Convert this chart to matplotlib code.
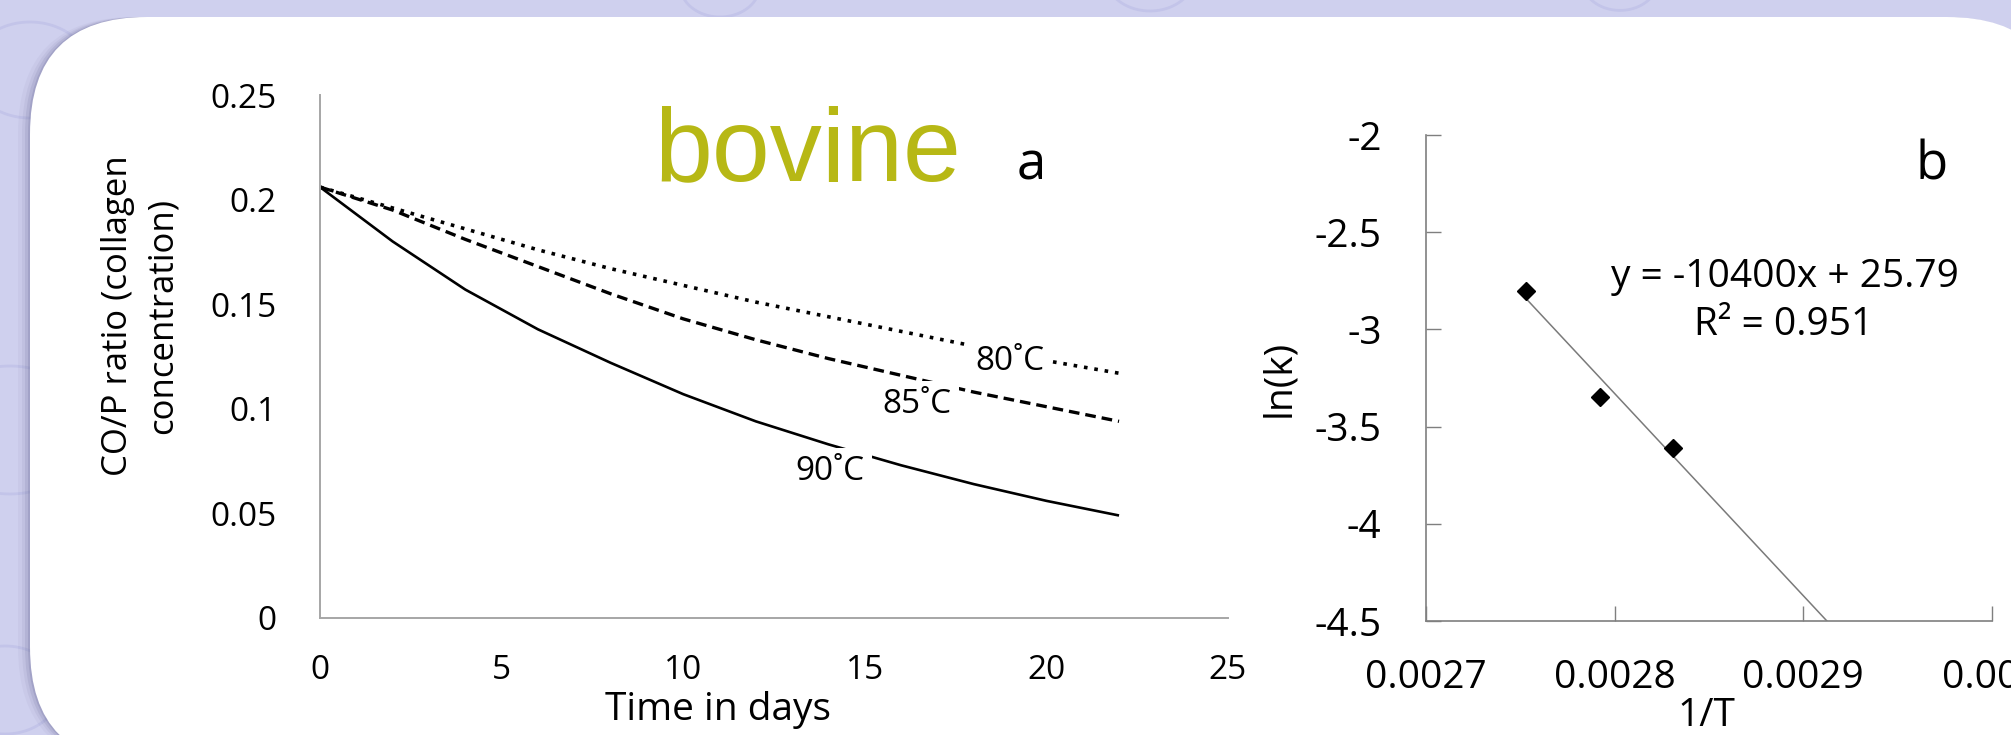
import matplotlib
matplotlib.use("Agg")
import matplotlib.pyplot as plt
import numpy as np
from matplotlib.patches import FancyBboxPatch

plt.rcParams['font.family'] = ['Open Sans', 'DejaVu Sans']

# ---------------- data: panel a (bovine collagen decay) ----------------
days = [0, 2, 4, 6, 8, 10, 12, 14, 16, 18, 20, 22]
co_p_80 = [0.206, 0.196, 0.186, 0.176, 0.167, 0.159, 0.151, 0.144, 0.137, 0.130, 0.123, 0.117]
co_p_85 = [0.206, 0.195, 0.181, 0.168, 0.155, 0.143, 0.133, 0.124, 0.116, 0.108, 0.101, 0.094]
co_p_90 = [0.206, 0.180, 0.157, 0.138, 0.122, 0.107, 0.094, 0.083, 0.073, 0.064, 0.056, 0.049]
curve_labels = ["80˚C", "85˚C", "90˚C"]
xa_ticks = [0, 5, 10, 15, 20, 25]
xa_labels = ["0", "5", "10", "15", "20", "25"]
ya_ticks = [0, 0.05, 0.1, 0.15, 0.2, 0.25]
ya_labels = ["0", "0.05", "0.1", "0.15", "0.2", "0.25"]

# ---------------- data: panel b (Arrhenius plot) ----------------
inv_T = [0.002753, 0.002792, 0.002831]
ln_k = [-2.80, -3.35, -3.61]
trend_slope = -10400
trend_intercept = 25.79
trend_span = [0.002753, 0.00292]
trend_text = "y = -10400x + 25.79"
r2_text = "R² = 0.951"
xb_ticks = [0.0027, 0.0028, 0.0029, 0.003]
xb_labels = ["0.0027", "0.0028", "0.0029", "0.003"]
yb_ticks = [-4.5, -4, -3.5, -3, -2.5, -2]
yb_labels = ["-4.5", "-4", "-3.5", "-3", "-2.5", "-2"]

W, H, DPI = 2011, 735, 100
fig = plt.figure(figsize=(W / DPI, H / DPI), dpi=DPI)
fig.patch.set_facecolor("#cfd0ee")


def fx(x):
    return x / W


def fy(y):
    return 1 - y / H


# background slide panel
bg = fig.add_axes([0, 0, 1, 1])
bg.set_xlim(0, W)
bg.set_ylim(H, 0)
bg.axis("off")
th = np.linspace(0, 2 * np.pi, 200)
for cx, cy, r in [(30, 70, 60), (720, -15, 40), (1150, -25, 45), (1620, -20, 38), (10, 430, 80), (5, 690, 55)]:
    bg.plot(cx + r * np.cos(th), cy + 0.8 * r * np.sin(th), color="#c3c4e9", lw=2, zorder=0.5)
for dx, a in [(12, 0.05), (8, 0.08), (5, 0.12), (2, 0.18)]:
    bg.add_patch(FancyBboxPatch((30 - dx, 17), 2034, 747,
                                boxstyle="round,pad=0,rounding_size=117",
                                fc="#5a5a88", ec="none", alpha=a, zorder=1))
bg.add_patch(FancyBboxPatch((30, 17), 2034, 747,
                            boxstyle="round,pad=0,rounding_size=117",
                            fc="white", ec="none", zorder=1.5))

# ---------------- panel a ----------------
axa = fig.add_axes([fx(320), fy(618), (1228 - 320) / W, (618 - 95) / H])
axa.set_facecolor("none")
axa.plot(days, co_p_90, color="black", lw=1.9, solid_capstyle="butt")
axa.plot(days, co_p_85, color="black", lw=2.4, ls=(0, (3.2, 1.8)))
axa.plot(days, co_p_80, color="black", lw=2.6, ls=(0, (1, 1.9)))
axa.set_xlim(0, 25)
axa.set_ylim(0, 0.25)
for s in ["top", "right"]:
    axa.spines[s].set_visible(False)
for s in ["left", "bottom"]:
    axa.spines[s].set_color("#a6a6a6")
    axa.spines[s].set_linewidth(1.4)
axa.set_xticks(xa_ticks, xa_labels)
axa.set_yticks(ya_ticks, ya_labels)
axa.tick_params(axis="both", length=0, labelsize=24, colors="black")
axa.tick_params(axis="x", pad=26)
axa.tick_params(axis="y", pad=31)

box = dict(boxstyle="square,pad=0.22", fc="white", ec="none")
axa.text(19.0, 0.1228, curve_labels[0], fontsize=24, ha="center", va="center", bbox=box, zorder=3)
axa.text(16.44, 0.1020, curve_labels[1], fontsize=24, ha="center", va="center", bbox=box, zorder=3)
axa.text(14.04, 0.0700, curve_labels[2], fontsize=24, ha="center", va="center", bbox=box, zorder=3)

fig.text(fx(718), fy(710), "Time in days", fontsize=28, ha="center", va="center")
fig.text(fx(140), fy(316), "CO/P ratio (collagen\nconcentration)", fontsize=25,
         rotation=90, ha="center", va="center", multialignment="center", linespacing=1.4)

fig.text(fx(654), fy(180), "bovine", family=["Liberation Sans", "DejaVu Sans"],
         fontsize=75, color="#b7b815", ha="left", va="baseline")
fig.text(fx(1031), fy(180), "a", fontsize=38, ha="center", va="baseline")
fig.text(fx(1932), fy(180), "b", fontsize=38, ha="center", va="baseline")

# ---------------- panel b ----------------
axb = fig.add_axes([fx(1426), fy(621), (1992 - 1426) / W, (621 - 135) / H])
axb.set_facecolor("none")
tx = np.array(trend_span)
axb.plot(tx, trend_slope * tx + trend_intercept, color="#7a7a7a", lw=1.1, zorder=2)
axb.plot(inv_T, ln_k, ls="none", marker="D", ms=9, color="black", zorder=3)
axb.set_xlim(0.0027, 0.003)
axb.set_ylim(-4.5, -2)
for s in ["top", "right"]:
    axb.spines[s].set_visible(False)
for s in ["left", "bottom"]:
    axb.spines[s].set_color("#7f7f7f")
    axb.spines[s].set_linewidth(1.2)
axb.set_xticks(xb_ticks, xb_labels)
axb.set_yticks(yb_ticks, yb_labels)
axb.tick_params(axis="both", direction="in", length=11, width=1, color="#7f7f7f",
                labelsize=28, labelcolor="black")
axb.tick_params(axis="x", pad=27)
axb.tick_params(axis="y", pad=32)

fig.text(fx(1785), fy(277), trend_text, fontsize=28, ha="center", va="center")
fig.text(fx(1784), fy(325), r2_text, fontsize=28, ha="center", va="center")
fig.text(fx(1279), fy(378), "ln(k)", fontsize=28, rotation=90, ha="center", va="center")
fig.text(fx(1706), fy(716), "1/T", fontsize=28, ha="center", va="center")

fig.savefig("out.png", dpi=DPI, facecolor=fig.get_facecolor())
